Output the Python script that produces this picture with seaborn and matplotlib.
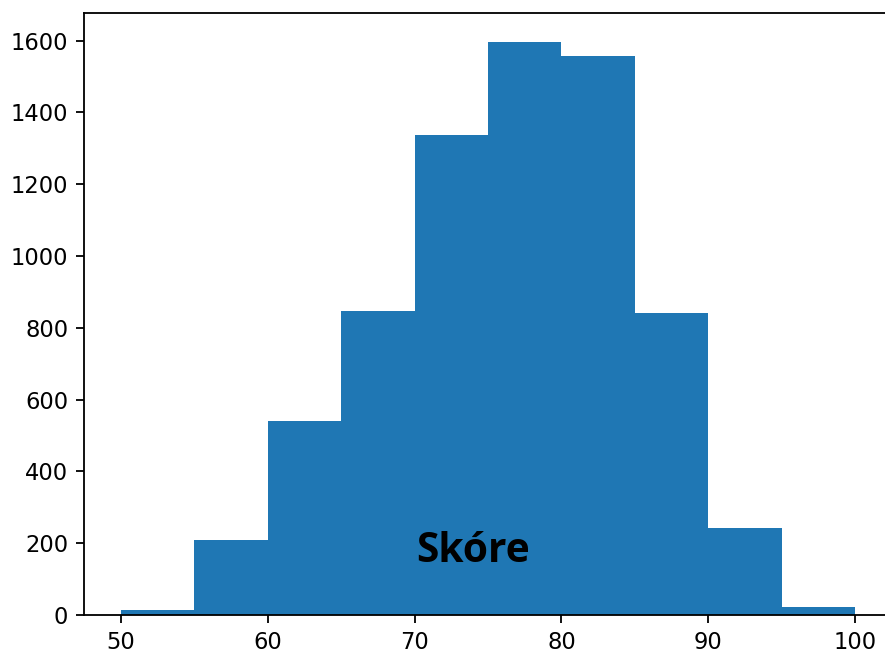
import matplotlib
matplotlib.use("Agg")
import matplotlib.pyplot as plt
import seaborn as sns
import numpy as np

# Data
bin_edges = [50, 55, 60, 65, 70, 75, 80, 85, 90, 95, 100]
counts = [13, 208, 540, 848, 1337, 1597, 1556, 840, 241, 22]
label_text = "Skóre"

centers = [(a + b) / 2 for a, b in zip(bin_edges[:-1], bin_edges[1:])]

DPI = 163
fig = plt.figure(figsize=(885 / DPI, 651 / DPI), dpi=DPI)
ax = fig.add_axes([84 / 885, 36 / 651, (892 - 84) / 885, (615 - 13) / 651])

sns.histplot(x=centers, weights=counts, bins=bin_edges, ax=ax,
             color="#1f77b4", alpha=1.0, linewidth=0, element="bars")

ax.set_ylabel("")
ax.set_xlabel("")
ax.set_xticks([50, 60, 70, 80, 90, 100])
ax.set_yticks([0, 200, 400, 600, 800, 1000, 1200, 1400, 1600])
ax.set_xlim(47.5, 102.5)
ax.set_ylim(0, max(counts) * 1.05)

ax.text(74.0, 147, label_text, ha="center", va="baseline",
        fontsize=18, fontweight="bold", family=["Open Sans", "DejaVu Sans"],
        color="black")

fig.savefig("out.png", dpi=DPI)
